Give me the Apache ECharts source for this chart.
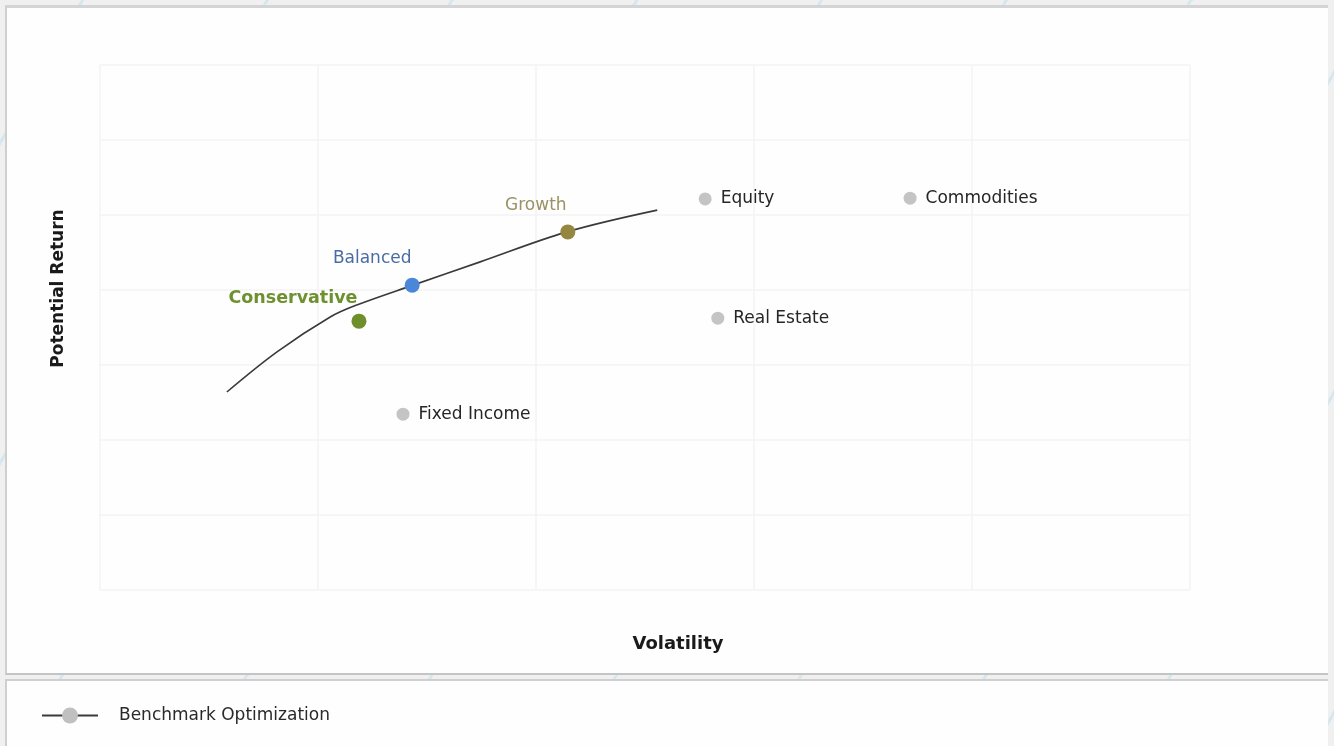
<!DOCTYPE html>
<html>
<head>
<meta charset="utf-8">
<script src="https://cdn.jsdelivr.net/npm/echarts@6/dist/echarts.min.js"></script>
<style>
  html, body { margin: 0; padding: 0; width: 1334px; height: 746px; overflow: hidden;
    background: #f0f0f0 repeating-linear-gradient(120deg, transparent 0 70px, #d6e7f0 70px 73px, transparent 73px 160px); }
  #p1 { position: absolute; left: 5px; top: 5px; width: 1321px; height: 665px; background: #fefefe;
    border-top: 3px solid #d4d4d4; border-left: 2px solid #cfcfcf; border-bottom: 2px solid #c4c4c4; }
  #p2 { position: absolute; left: 5px; top: 679px; width: 1321px; height: 70px; background: #fefefe;
    border-top: 2px solid #cfcfcf; border-left: 2px solid #cfcfcf; }
  #chart { position: absolute; left: 0; top: 0; width: 1334px; height: 746px; }
</style>
</head>
<body>
<div id="p1"></div>
<div id="p2"></div>
<div id="chart"></div>
<script>
// Efficient frontier curve (Volatility, Potential Return)
const frontierX = [2.91, 4.06, 5.28, 5.89, 7.18, 8.72, 10.71, 12.78];
const frontierY = [5.28, 6.35, 7.28, 7.60, 8.13, 8.75, 9.55, 10.13];

// Portfolio points
const portfolioNames = ['Conservative', 'Balanced', 'Growth'];
const portfolioX = [5.94, 7.16, 10.73];
const portfolioY = [7.17, 8.13, 9.55];

// Asset class points
const assetNames = ['Fixed Income', 'Real Estate', 'Equity', 'Commodities'];
const assetX = [6.95, 14.17, 13.88, 18.58];
const assetY = [4.69, 7.25, 10.43, 10.45];

const FONT = 'DejaVu Sans';

const portfolioStyles = [
  { color: '#6f8f2a', label: { color: '#6e9130', fontWeight: 'bold', position: 'left', offset: [11, -23], fontSize: 17.5 } },
  { color: '#4b87d9', label: { color: '#4a6ca3', position: 'top', offset: [-40, -6], fontSize: 17 } },
  { color: '#958641', label: { color: '#9a9264', position: 'top', offset: [-32, -5], fontSize: 17 } }
];

const portfolioData = portfolioNames.map((n, i) => ({
  name: n,
  value: [portfolioX[i], portfolioY[i]],
  itemStyle: { color: portfolioStyles[i].color, opacity: 1 },
  label: Object.assign({ show: true, formatter: n, fontFamily: FONT }, portfolioStyles[i].label)
}));

const assetData = assetNames.map((n, i) => ({
  name: n,
  value: [assetX[i], assetY[i]]
}));

const chart = echarts.init(document.getElementById('chart'), null, { renderer: 'canvas' });
chart.setOption({
  backgroundColor: 'transparent',
  animation: false,
  grid: { left: 100, right: 144, top: 65, bottom: 156 },
  legend: {
    data: ['Benchmark Optimization'],
    left: 36, top: 702,
    itemWidth: 56, itemHeight: 20, itemGap: 20,
    textStyle: { fontFamily: FONT, fontSize: 17, color: '#2a2a2a', padding: [0, 0, 0, 16] }
  },
  xAxis: {
    type: 'value', min: 0, max: 25, interval: 5,
    name: 'Volatility', nameLocation: 'middle', nameGap: 45,
    nameTextStyle: { fontFamily: FONT, fontWeight: 'bold', fontSize: 18, color: '#1a1a1a', padding: [0, 0, 0, 66] },
    axisLine: { show: false }, axisTick: { show: false }, axisLabel: { show: false },
    splitLine: { show: true, lineStyle: { color: '#f3f3f3', width: 1.5 } }
  },
  yAxis: {
    type: 'value', min: 0, max: 14, interval: 2,
    name: 'Potential Return', nameLocation: 'middle', nameGap: 33,
    nameTextStyle: { fontFamily: FONT, fontWeight: 'bold', fontSize: 17, color: '#1a1a1a', padding: [0, 0, 0, 78] },
    axisLine: { show: false }, axisTick: { show: false }, axisLabel: { show: false },
    splitLine: { show: true, lineStyle: { color: '#f3f3f3', width: 1.5 } }
  },
  series: [
    {
      name: 'Benchmark Optimization',
      type: 'line',
      smooth: 0.35,
      symbol: 'circle', symbolSize: 14, showSymbol: false,
      itemStyle: { color: '#c0c0c0' },
      lineStyle: { color: '#3a3a3a', width: 1.6 },
      data: frontierX.map((x, i) => [x, frontierY[i]]),
      z: 2
    },
    {
      name: 'Assets',
      type: 'scatter',
      symbolSize: 13,
      itemStyle: { color: '#c4c4c4', opacity: 1 },
      label: { show: true, position: 'right', distance: 9, formatter: '{b}', fontFamily: FONT, fontSize: 17, color: '#262626' },
      data: assetData,
      z: 3
    },
    {
      name: 'Portfolios',
      type: 'scatter',
      symbolSize: 15,
      data: portfolioData,
      z: 4
    }
  ]
});
</script>
</body>
</html>
